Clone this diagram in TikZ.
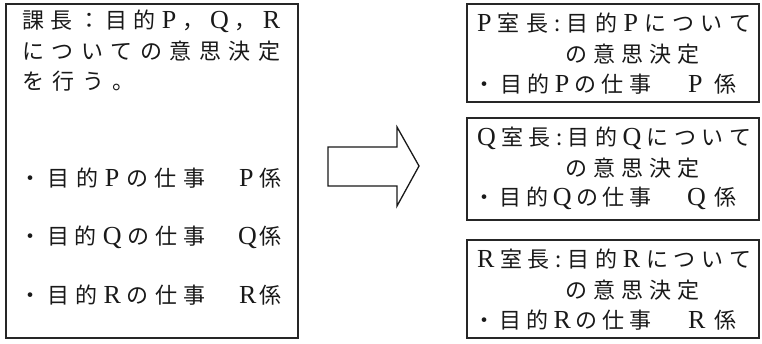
\documentclass[tikz,border=0pt]{standalone}
\usepackage{fontspec}
\setmainfont{Noto Sans CJK JP}
\newfontfamily\lat{Liberation Serif}
\newcommand\lt[1]{{\lat\fontsize{26}{26}\selectfont #1}}
\newcommand\spr[2]{\makebox[#1][s]{#2}}
\begin{document}
\begin{tikzpicture}[x=1pt,y=-1pt,
  box/.style={draw=black!85,line width=1.5pt},
  txt/.style={anchor=west,inner sep=0pt,text=black!90,font=\fontsize{22}{22}\selectfont}]
\useasboundingbox (0,0) rectangle (762,343);
% left box
\draw[box] (6,4) rectangle (298,338);
\node[txt] (l1) at (22,21) {\spr{258pt}{課\hfill 長\hfill ：\hfill 目\hfill 的\hfill\lt{P}\hfill ，\hfill\lt{Q}\hfill ，\hfill\lt{R}}};
\node[txt] (l2) at (22,51) {\spr{258pt}{に\hfill つ\hfill い\hfill て\hfill の\hfill 意\hfill 思\hfill 決\hfill 定}};
\node[txt] (l3) at (22,81) {\spr{112pt}{を\hfill 行\hfill う\hfill 。}};
\node[txt] (p1) at (19,178) {\spr{186pt}{・\hfill 目\hfill 的\hfill\lt{P}\hfill の\hfill 仕\hfill 事}};
\node[txt] (p2) at (239,178) {\spr{42pt}{\lt{P}\hfill 係}};
\node[txt] (q1) at (19,237) {\spr{186pt}{・\hfill 目\hfill 的\hfill\lt{Q}\hfill の\hfill 仕\hfill 事}};
\node[txt] (q2) at (238,237) {\spr{43pt}{\lt{Q}\hfill 係}};
\node[txt] (r1) at (19,295) {\spr{186pt}{・\hfill 目\hfill 的\hfill\lt{R}\hfill の\hfill 仕\hfill 事}};
\node[txt] (r2) at (239,295) {\spr{42pt}{\lt{R}\hfill 係}};
% arrow
\draw[line width=1.3pt,draw=black!90,line join=miter] (328,147) -- (397,147) -- (397,127) -- (419,166) -- (397,206) -- (397,186) -- (328,186) -- cycle;
% right boxes
\draw[box] (467,4) rectangle (759,102);
\draw[box] (467,118) rectangle (759,220);
\draw[box] (467,240) rectangle (759,338);
\node[txt] (pa) at (477,23) {\spr{274pt}{\lt{P}\hfill 室\hfill 長\hfill :\hfill 目\hfill 的\hfill\lt{P}\hfill に\hfill つ\hfill い\hfill て}};
\node[txt] (pb) at (565,54) {\spr{134pt}{の\hfill 意\hfill 思\hfill 決\hfill 定}};
\node[txt] (pc) at (473,84) {\spr{178pt}{・\hfill 目\hfill 的\hfill\lt{P}\hfill の\hfill 仕\hfill 事}};
\node[txt] (pd) at (688,84) {\spr{48pt}{\lt{P}\hfill 係}};
\node[txt] (qa) at (477,138) {\spr{274pt}{\lt{Q}\hfill 室\hfill 長\hfill :\hfill 目\hfill 的\hfill\lt{Q}\hfill に\hfill つ\hfill い\hfill て}};
\node[txt] (qb) at (565,168) {\spr{134pt}{の\hfill 意\hfill 思\hfill 決\hfill 定}};
\node[txt] (qc) at (473,198) {\spr{178pt}{・\hfill 目\hfill 的\hfill\lt{Q}\hfill の\hfill 仕\hfill 事}};
\node[txt] (qd) at (687,198) {\spr{49pt}{\lt{Q}\hfill 係}};
\node[txt] (ra) at (477,259) {\spr{274pt}{\lt{R}\hfill 室\hfill 長\hfill :\hfill 目\hfill 的\hfill\lt{R}\hfill に\hfill つ\hfill い\hfill て}};
\node[txt] (rb) at (565,290) {\spr{134pt}{の\hfill 意\hfill 思\hfill 決\hfill 定}};
\node[txt] (rc) at (473,320) {\spr{178pt}{・\hfill 目\hfill 的\hfill\lt{R}\hfill の\hfill 仕\hfill 事}};
\node[txt] (rd) at (688,320) {\spr{48pt}{\lt{R}\hfill 係}};
\end{tikzpicture}
\end{document}
